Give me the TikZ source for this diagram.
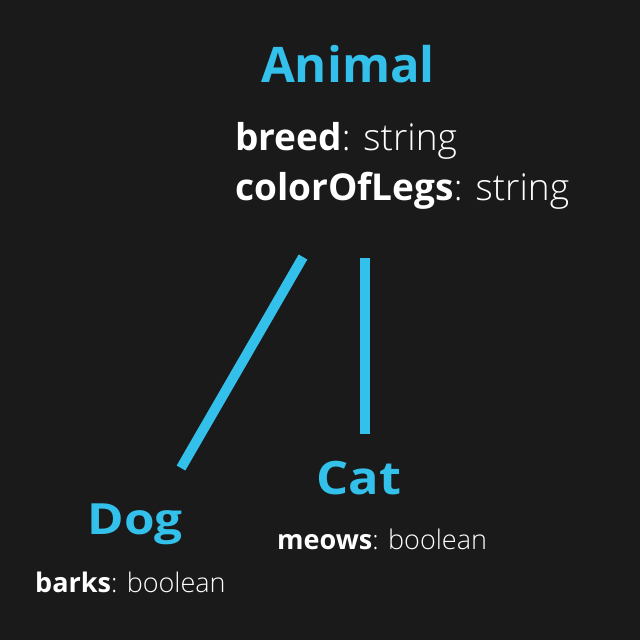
\documentclass[tikz,border=0pt]{standalone}
\usepackage{fontspec}
\setmainfont{Open Sans}
\newfontfamily\lightfont{Open Sans}[UprightFont=* Light]
\definecolor{bg}{HTML}{1A1A1A}
\definecolor{sky}{HTML}{33C0EA}

\begin{document}
\begin{tikzpicture}[
    x=1pt, y=-1pt,
    title/.style={anchor=base, inner sep=0pt, text=sky, font=\bfseries\fontsize{49}{49}\selectfont},
    attr/.style={anchor=base west, inner sep=0pt, text=white, align=left},
    link/.style={line width=10pt, draw=sky}
]
    % background
    \fill[bg] (0,0) rectangle (640,640);
    \useasboundingbox (0,0) rectangle (640,640);

    % Animal
    \node[title] (animal) at (348,82) {Animal};
    \node[attr, font=\fontsize{37}{50}\selectfont] (breed) at (235,150)
        {\textbf{breed}{\lightfont: string}};
    \node[attr, font=\fontsize{37}{50}\selectfont] (legs) at (235,200)
        {\textbf{colorOfLegs}{\lightfont: string}};

    % Dog
    \node[title, font=\bfseries\fontsize{43}{43}\selectfont] (dog) at (135,534)
        {\scalebox{1.15}[1]{Dog}};
    \node[attr, font=\fontsize{27}{27}\selectfont] (barks) at (35,592)
        {\textbf{barks}{\lightfont: boolean}};

    % Cat
    \node[title, font=\bfseries\fontsize{46}{46}\selectfont] (cat) at (359,494)
        {\scalebox{1.1}[1]{Cat}};
    \node[attr, font=\fontsize{27}{27}\selectfont] (meows) at (277,549)
        {\textbf{meows}{\lightfont: boolean}};

    % links
    \coordinate (dogtop) at (303,257);
    \coordinate (dogend) at (181,468);
    \coordinate (cattop) at (365,258);
    \coordinate (catend) at (365,434);
    \draw[link] (dogtop) -- (dogend);
    \draw[link] (cattop) -- (catend);
\end{tikzpicture}
\end{document}
